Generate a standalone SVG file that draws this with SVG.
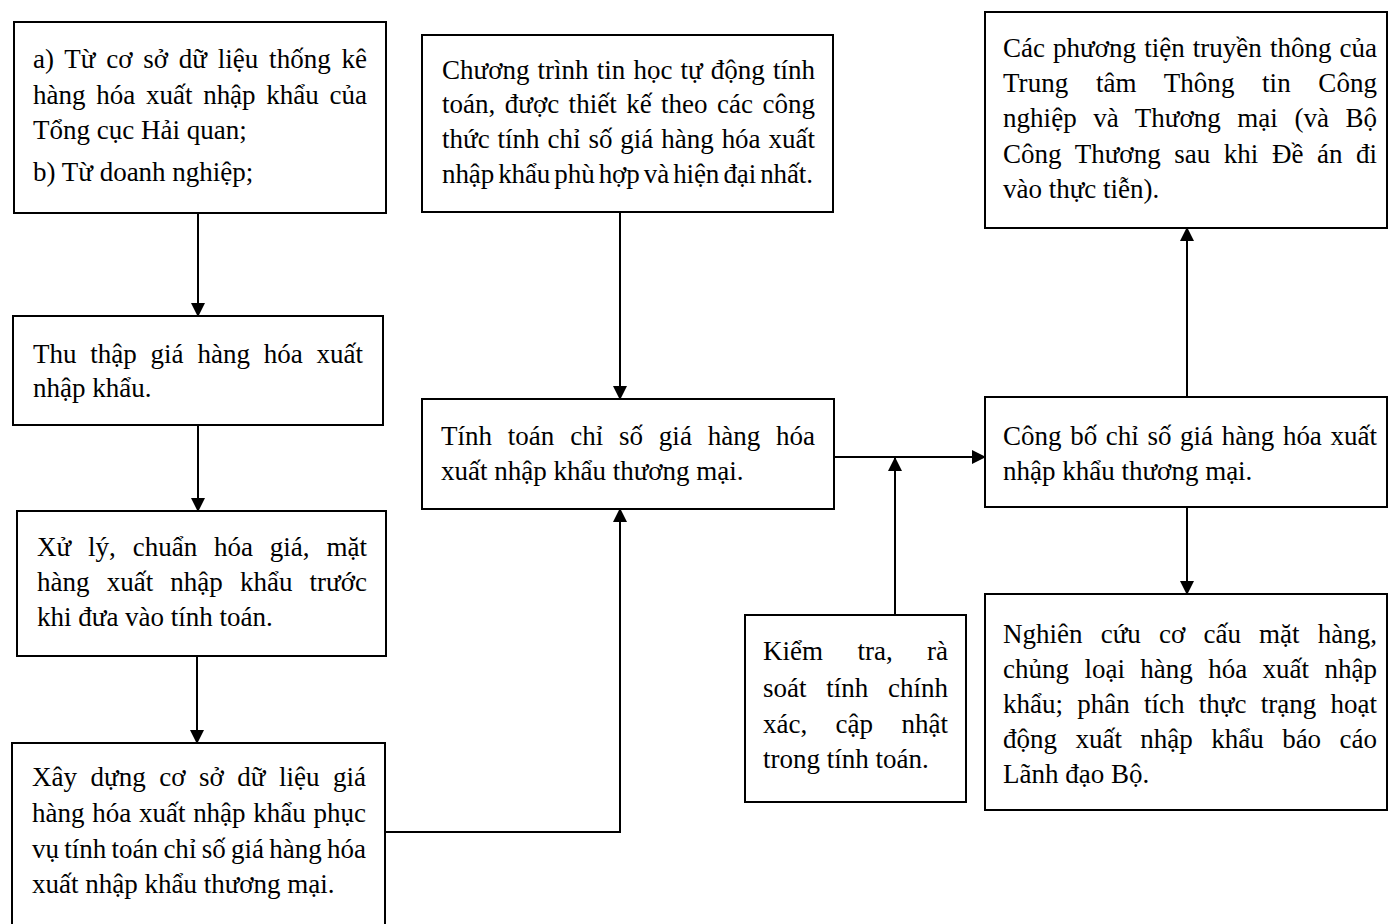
<svg xmlns="http://www.w3.org/2000/svg" width="1388" height="924" viewBox="0 0 1388 924">
<style>
.box{fill:#fff;stroke:#000;stroke-width:2}
.t{font-family:"Liberation Serif","Times New Roman",serif;font-size:27px;fill:#000}
.c{fill:none;stroke:#000;stroke-width:2}
</style>
<defs>
<marker id="ah" markerUnits="userSpaceOnUse" markerWidth="14" markerHeight="14" refX="13" refY="7" orient="auto">
<path d="M0,0 L14,7 L0,14 z" fill="#000"/>
</marker>
</defs>
<rect width="1388" height="924" fill="#fff"/>

<g id="n1">
<rect class="box" x="14" y="22" width="372" height="191"/>
<text class="t"><tspan x="33" y="68" style="word-spacing:3.9px" textLength="334" lengthAdjust="spacing">a) Từ cơ sở dữ liệu thống kê</tspan><tspan x="33" y="104" style="word-spacing:4px" textLength="334" lengthAdjust="spacing">hàng hóa xuất nhập khẩu của</tspan><tspan x="33" y="139">Tổng cục Hải quan;</tspan><tspan x="33" y="181">b) Từ doanh nghiệp;</tspan></text>
</g>

<g id="n2">
<rect class="box" x="13" y="316" width="370" height="109"/>
<text class="t"><tspan x="33" y="363" style="word-spacing:7.1px" textLength="330" lengthAdjust="spacing">Thu thập giá hàng hóa xuất</tspan><tspan x="33" y="397">nhập khẩu.</tspan></text>
</g>

<g id="n3">
<rect class="box" x="17" y="511" width="369" height="145"/>
<text class="t"><tspan x="37" y="556" style="word-spacing:10.1px" textLength="330" lengthAdjust="spacing">Xử lý, chuẩn hóa giá, mặt</tspan><tspan x="37" y="591" style="word-spacing:10.3px" textLength="330" lengthAdjust="spacing">hàng xuất nhập khẩu trước</tspan><tspan x="37" y="626">khi đưa vào tính toán.</tspan></text>
</g>

<g id="n4">
<rect class="box" x="12" y="743" width="373" height="190"/>
<text class="t"><tspan x="32" y="786" style="word-spacing:6.7px" textLength="334" lengthAdjust="spacing">Xây dựng cơ sở dữ liệu giá</tspan><tspan x="32" y="822" style="word-spacing:1px" textLength="334" lengthAdjust="spacing">hàng hóa xuất nhập khẩu phục</tspan><tspan x="32" y="858" style="word-spacing:-1.5px" textLength="334" lengthAdjust="spacing">vụ tính toán chỉ số giá hàng hóa</tspan><tspan x="32" y="893">xuất nhập khẩu thương mại.</tspan></text>
</g>

<g id="n5">
<rect class="box" x="422" y="35" width="411" height="177"/>
<text class="t"><tspan x="442" y="79" style="word-spacing:1.4px" textLength="373" lengthAdjust="spacing">Chương trình tin học tự động tính</tspan><tspan x="442" y="113" style="word-spacing:2.7px" textLength="373" lengthAdjust="spacing">toán, được thiết kế theo các công</tspan><tspan x="442" y="148" style="word-spacing:1.2px" textLength="373" lengthAdjust="spacing">thức tính chỉ số giá hàng hóa xuất</tspan><tspan x="442" y="183" style="word-spacing:-2.5px" textLength="371" lengthAdjust="spacing">nhập khẩu phù hợp và hiện đại nhất.</tspan></text>
</g>

<g id="n6">
<rect class="box" x="422" y="399" width="412" height="110"/>
<text class="t"><tspan x="441" y="445" style="word-spacing:9.1px" textLength="374" lengthAdjust="spacing">Tính toán chỉ số giá hàng hóa</tspan><tspan x="441" y="480">xuất nhập khẩu thương mại.</tspan></text>
</g>

<g id="n7">
<rect class="box" x="985" y="12" width="402" height="216"/>
<text class="t"><tspan x="1003" y="57" style="word-spacing:1.3px" textLength="374" lengthAdjust="spacing">Các phương tiện truyền thông của</tspan><tspan x="1003" y="92" style="word-spacing:20.8px" textLength="374" lengthAdjust="spacing">Trung tâm Thông tin Công</tspan><tspan x="1003" y="127" style="word-spacing:9.7px" textLength="374" lengthAdjust="spacing">nghiệp và Thương mại (và Bộ</tspan><tspan x="1003" y="163" style="word-spacing:6.7px" textLength="374" lengthAdjust="spacing">Công Thương sau khi Đề án đi</tspan><tspan x="1003" y="198">vào thực tiễn).</tspan></text>
</g>

<g id="n8">
<rect class="box" x="985" y="397" width="402" height="110"/>
<text class="t"><tspan x="1003" y="445" style="word-spacing:1.9px" textLength="374" lengthAdjust="spacing">Công bố chỉ số giá hàng hóa xuất</tspan><tspan x="1003" y="480">nhập khẩu thương mại.</tspan></text>
</g>

<g id="n9">
<rect class="box" x="745" y="615" width="221" height="187"/>
<text class="t"><tspan x="763" y="660" style="word-spacing:27.6px" textLength="185" lengthAdjust="spacing">Kiểm tra, rà</tspan><tspan x="763" y="697" style="word-spacing:13px" textLength="185" lengthAdjust="spacing">soát tính chính</tspan><tspan x="763" y="733" style="word-spacing:21.6px" textLength="185" lengthAdjust="spacing">xác, cập nhật</tspan><tspan x="763" y="768">trong tính toán.</tspan></text>
</g>

<g id="n10">
<rect class="box" x="985" y="594" width="402" height="216"/>
<text class="t"><tspan x="1003" y="643" style="word-spacing:11.4px" textLength="374" lengthAdjust="spacing">Nghiên cứu cơ cấu mặt hàng,</tspan><tspan x="1003" y="678" style="word-spacing:8.6px" textLength="374" lengthAdjust="spacing">chủng loại hàng hóa xuất nhập</tspan><tspan x="1003" y="713" style="word-spacing:7.5px" textLength="374" lengthAdjust="spacing">khẩu; phân tích thực trạng hoạt</tspan><tspan x="1003" y="748" style="word-spacing:11.7px" textLength="374" lengthAdjust="spacing">động xuất nhập khẩu báo cáo</tspan><tspan x="1003" y="783">Lãnh đạo Bộ.</tspan></text>
</g>

<g id="connectors">
<path class="c" d="M198,213 V316" marker-end="url(#ah)"/>
<path class="c" d="M198,425 V511" marker-end="url(#ah)"/>
<path class="c" d="M197,656 V743" marker-end="url(#ah)"/>
<path class="c" d="M385,832 H620 V509" marker-end="url(#ah)"/>
<path class="c" d="M620,212 V399" marker-end="url(#ah)"/>
<path class="c" d="M834,457 H985" marker-end="url(#ah)"/>
<path class="c" d="M895,615 V458" marker-end="url(#ah)"/>
<path class="c" d="M1187,397 V228" marker-end="url(#ah)"/>
<path class="c" d="M1187,507 V594" marker-end="url(#ah)"/>
</g>
</svg>
